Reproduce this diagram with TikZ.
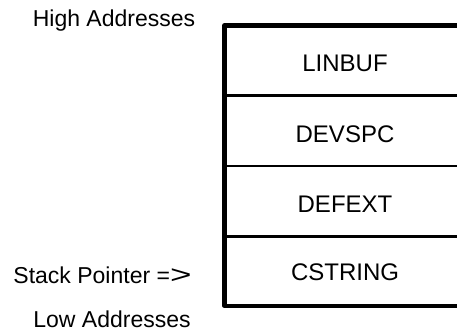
\documentclass[tikz,border=0pt]{standalone}
\usepackage{graphicx}
\usepackage{fontspec}
\setmainfont{Liberation Sans}
\begin{document}
\begin{tikzpicture}[x=1pt,y=-1pt,
  cell/.style={font=\fontsize{24}{27}\selectfont, anchor=base, inner sep=0pt},
  lbl/.style={font=\fontsize{23}{26}\selectfont, anchor=base, inner sep=0pt},
  outer/.style={line width=4.2pt, line cap=round, line join=round},
  divider/.style={line width=2.8pt}]
\useasboundingbox (0,0) rectangle (457,331);
% outline
\coordinate (tr) at (460,25.5);
\coordinate (tl) at (224.5,25.5);
\coordinate (bl) at (224.5,306);
\coordinate (br) at (460,306);
\draw[outer] (tr) -- (tl) -- (bl) -- (br);
% dividers
\coordinate (d1l) at (224.5,95.5); \coordinate (d1r) at (460,95.5);
\coordinate (d2l) at (224.5,166); \coordinate (d2r) at (460,166);
\coordinate (d3l) at (224.5,236.5); \coordinate (d3r) at (460,236.5);
\draw[divider] (d1l) -- (d1r);
\draw[divider] (d2l) -- (d2r);
\draw[divider] (d3l) -- (d3r);
% cells
\node[cell] (linbuf) at (345,72) {LINBUF};
\node[cell] (devspc) at (345,142.5) {DEVSPC};
\node[cell] (defext) at (345,212) {DEFEXT};
\node[cell] (cstring) at (345,280) {CSTRING};
% labels
\node[lbl] (high) at (114,27) {High Addresses};
\node[lbl] (sp) at (102.5,283) {Stack Pointer =\scalebox{1.6}[1.1]{>}};
\node[lbl] (low) at (112,327) {Low Addresses};
\end{tikzpicture}
\end{document}
